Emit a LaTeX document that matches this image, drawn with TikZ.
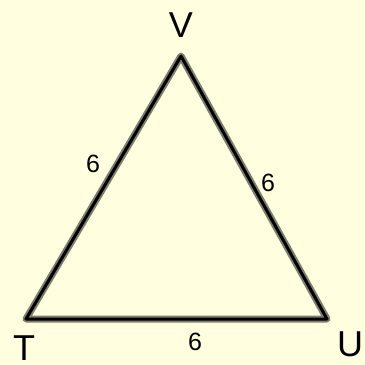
\documentclass[tikz,border=0pt]{standalone}
\usepackage{fontspec}
\setmainfont{Liberation Sans}
\definecolor{bg}{RGB}{255,255,224}
\definecolor{halo}{RGB}{125,125,112}
\begin{document}
\begin{tikzpicture}[x=1pt,y=-1pt,
  lbl/.style={font=\fontsize{36}{36}\selectfont, inner sep=0pt, anchor=center},
  num/.style={font=\fontsize{25}{25}\selectfont, inner sep=0pt, anchor=center}]
\fill[bg] (0,0) rectangle (365,365);
\useasboundingbox (0,0) rectangle (365,365);
\coordinate (T) at (26,319);
\coordinate (U) at (327,319);
\coordinate (V) at (181,56);
\draw[halo, line width=7pt, line join=round, line cap=round] (T) -- (U) -- (V) -- cycle;
\draw[black, line width=3pt, line join=round, line cap=round] (T) -- (U) -- (V) -- cycle;
\node[lbl] (lv) at (181,25) {V};
\node[lbl] (lt) at (24,348) {T};
\node[lbl] (lu) at (350,344) {U};
\node[num] (a) at (93,164) {6};
\node[num] (b) at (268,183) {6};
\node[num] (c) at (195,342) {6};
\end{tikzpicture}
\end{document}
